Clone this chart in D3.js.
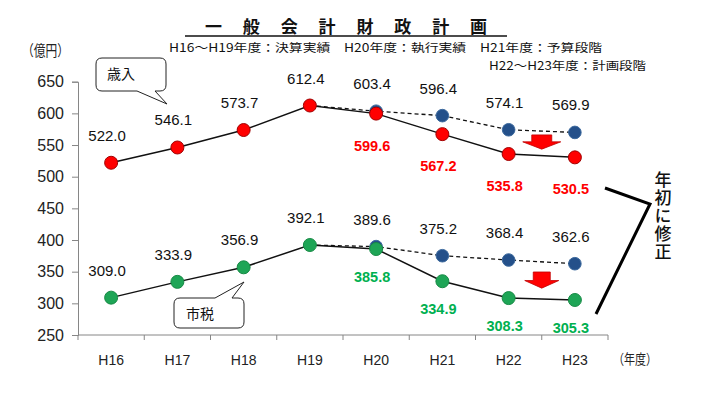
<!DOCTYPE html>
<html><head><meta charset="utf-8">
<script src="https://cdn.jsdelivr.net/npm/d3@7"></script>
<style>
body{margin:0;background:#fff;}
svg{display:block;}
text{font-family:"Liberation Sans",Arial,sans-serif;}
.jp{font-family:"Noto Sans CJK JP","Noto Sans",sans-serif;}
</style></head>
<body>
<svg id="c" width="727" height="399"></svg>
<script>
const years = ["H16","H17","H18","H19","H20","H21","H22","H23"];
const revenueActual = [522.0,546.1,573.7,612.4,599.6,567.2,535.8,530.5];
const revenuePlan = [null,null,null,612.4,603.4,596.4,574.1,569.9];
const taxActual = [309.0,333.9,356.9,392.1,385.8,334.9,308.3,305.3];
const taxPlan = [null,null,null,392.1,389.6,375.2,368.4,362.6];
const yTicks = [250,300,350,400,450,500,550,600,650];
const actualFrom = 4; // from H20 actual values are revised (coloured labels)

const svg = d3.select("#c");
const x = d3.scaleBand().domain(years).range([78,608]).padding(0);
const y = d3.scaleLinear().domain([250,650]).range([335,81.7]);
const cx = d => x(d)+x.bandwidth()/2;

// axes
const yAxis = d3.axisLeft(y).tickValues(yTicks).tickSize(6).tickPadding(8).tickFormat(d3.format("d"));
const gy = svg.append("g").attr("transform","translate(78,0)").call(yAxis);
gy.selectAll("path,line").attr("stroke","#868686");
gy.selectAll("text").attr("font-size",16).attr("fill","#222");

const gx = svg.append("g");
gx.append("line").attr("x1",78).attr("x2",608).attr("y1",y(250)).attr("y2",y(250)).attr("stroke","#868686");
const bounds = years.map(d=>x(d)).concat([x(years[years.length-1])+x.bandwidth()]);
gx.selectAll("line.t").data(bounds).join("line").attr("class","t")
  .attr("x1",d=>d).attr("x2",d=>d).attr("y1",y(250)).attr("y2",y(250)+5).attr("stroke","#868686");
gx.selectAll("text").data(years).join("text")
  .attr("x",d=>cx(d)).attr("y",y(250)+30).attr("text-anchor","middle")
  .attr("font-size",14).attr("fill","#222").text(d=>d);

// title
svg.append("text").attr("class","jp").attr("x",205).attr("y",33).attr("font-size",17).attr("font-weight","bold")
  .attr("textLength",282).attr("lengthAdjust","spacing").attr("fill","#111").text("一般会計財政計画");
svg.append("line").attr("x1",185).attr("x2",507).attr("y1",36).attr("y2",36).attr("stroke","#111").attr("stroke-width",1.3);
svg.append("text").attr("class","jp").attr("x",169).attr("y",52).attr("font-size",11.8)
  .attr("textLength",433).attr("lengthAdjust","spacingAndGlyphs").attr("fill","#111")
  .text("H16～H19年度：決算実績　H20年度：執行実績　H21年度：予算段階");
svg.append("text").attr("class","jp").attr("x",646).attr("y",69.5).attr("font-size",11.8).attr("text-anchor","end")
  .attr("textLength",157).attr("lengthAdjust","spacingAndGlyphs").attr("fill","#111")
  .text("H22～H23年度：計画段階");
svg.append("text").attr("class","jp").attr("x",22).attr("y",56).attr("font-size",15)
  .attr("textLength",47).attr("lengthAdjust","spacingAndGlyphs").attr("fill","#222").text("（億円）");
svg.append("text").attr("class","jp").attr("x",613).attr("y",364).attr("font-size",14)
  .attr("textLength",44).attr("lengthAdjust","spacingAndGlyphs").attr("fill","#222").text("（年度）");

// lines
function planPts(arr){return years.map((d,i)=>[d,arr[i]]).filter(p=>p[1]!=null);}
function actPts(arr){return years.map((d,i)=>[d,arr[i]]);}
const line = d3.line().x(p=>cx(p[0])).y(p=>y(p[1]));

function series(act, plan, fill, stroke, labelColor, belowOff){
  const g = svg.append("g");
  g.append("path").attr("d",line(planPts(plan))).attr("fill","none").attr("stroke","#111")
    .attr("stroke-width",1.3).attr("stroke-dasharray","4,3");
  g.selectAll("circle.p").data(planPts(plan).slice(1)).join("circle").attr("class","p")
    .attr("cx",p=>cx(p[0])).attr("cy",p=>y(p[1])).attr("r",6.3)
    .attr("fill","#24508a").attr("stroke","#3d6a9e").attr("stroke-width",1);
  g.append("path").attr("d",line(actPts(act))).attr("fill","none").attr("stroke","#111").attr("stroke-width",1.5);
  g.selectAll("circle.a").data(actPts(act)).join("circle").attr("class","a")
    .attr("cx",p=>cx(p[0])).attr("cy",p=>y(p[1])).attr("r",6.5)
    .attr("fill",fill).attr("stroke",stroke).attr("stroke-width",1);
  const above = years.map((d,i)=>[d, i<actualFrom ? act[i] : plan[i]]);
  g.selectAll("text.ab").data(above).join("text").attr("class","ab")
    .attr("x",p=>cx(p[0])-4).attr("y",p=>y(p[1])-22).attr("text-anchor","middle")
    .attr("font-size",15).attr("fill","#111").text(p=>p[1].toFixed(1));
  const below = years.map((d,i)=>[d,act[i]]).slice(actualFrom);
  g.selectAll("text.be").data(below).join("text").attr("class","be")
    .attr("x",p=>cx(p[0])-4).attr("y",p=>y(p[1])+belowOff).attr("text-anchor","middle")
    .attr("font-size",14.5).attr("font-weight","bold").attr("fill",labelColor).text(p=>p[1].toFixed(1));
}
series(revenueActual, revenuePlan, "#ff0000", "#a00000", "#ff0000", 37);
series(taxActual, taxPlan, "#1ea556", "#178a45", "#00b050", 33);

// down arrows between H22 and H23
function arrow(xc, top, tip, shaftW, headW, headY){
  const pts = [[xc-shaftW/2,top],[xc+shaftW/2,top],[xc+shaftW/2,headY],[xc+headW/2,headY],[xc,tip],[xc-headW/2,headY],[xc-shaftW/2,headY]];
  svg.append("path").attr("d","M"+pts.map(p=>p.join(",")).join("L")+"Z")
    .attr("fill","#ff0000").attr("stroke","#c00000").attr("stroke-width",0.8);
}
const xb = x("H23");
arrow(xb, y(566), y(543.5), 20, 38, y(555));
arrow(xb, y(349.5), y(324), 17, 34, y(336));

// callouts
function callout(bx,by,bw,bh,tail,label,tx,ty){
  const r=6;
  const g=svg.append("g");
  g.append("path").attr("d",
    tail.side==="bottom"
    ? `M${bx+r},${by}H${bx+bw-r}Q${bx+bw},${by} ${bx+bw},${by+r}V${by+bh-r}Q${bx+bw},${by+bh} ${bx+bw-r},${by+bh}H${tail.b}L${tail.tx},${tail.ty}L${tail.a},${by+bh}H${bx+r}Q${bx},${by+bh} ${bx},${by+bh-r}V${by+r}Q${bx},${by} ${bx+r},${by}Z`
    : `M${bx+r},${by}H${tail.a}L${tail.tx},${tail.ty}L${tail.b},${by}H${bx+bw-r}Q${bx+bw},${by} ${bx+bw},${by+r}V${by+bh-r}Q${bx+bw},${by+bh} ${bx+bw-r},${by+bh}H${bx+r}Q${bx},${by+bh} ${bx},${by+bh-r}V${by+r}Q${bx},${by} ${bx+r},${by}Z`)
    .attr("fill","#fff").attr("stroke","#222").attr("stroke-width",1);
  g.append("text").attr("class","jp").attr("x",tx).attr("y",ty).attr("font-size",14).attr("fill","#111").text(label);
}
callout(96,58,70,33,{side:"bottom",a:137,b:155,tx:167,ty:104},"歳入",107,79);
callout(174,298,70,30,{side:"top",a:215,b:232,tx:244,ty:282},"市税",186,319);

// bracket annotation
svg.append("path").attr("d","M605,188L650,204L596,314").attr("fill","none").attr("stroke","#000").attr("stroke-width",3);
svg.append("text").attr("class","jp").attr("x",663).attr("y",171)
  .style("writing-mode","vertical-rl").style("text-orientation","upright")
  .attr("font-size",17).attr("font-weight",500).attr("letter-spacing",1).attr("fill","#111").text("年初に修正");
</script>
</body></html>
